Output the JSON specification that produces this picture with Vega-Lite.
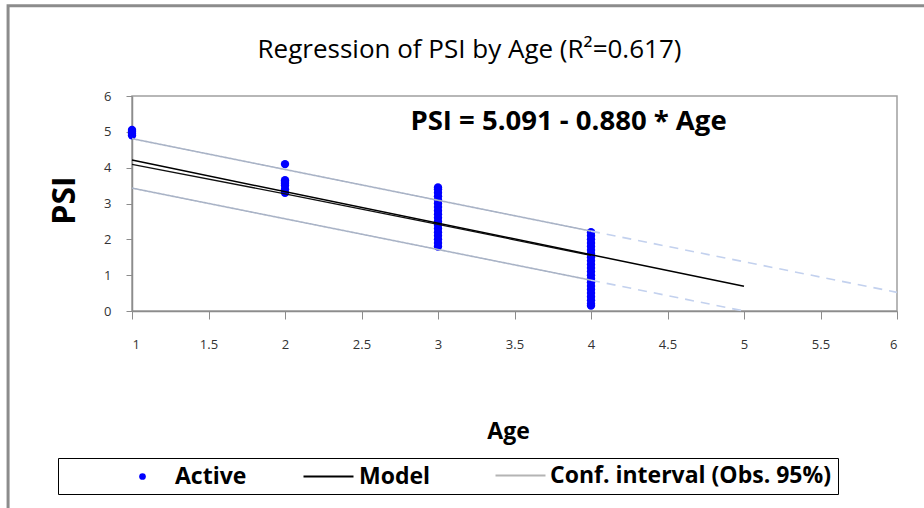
{
  "$schema": "https://vega.github.io/schema/vega-lite/v6.json",
  "width": 765,
  "height": 215,
  "autosize": "none",
  "padding": {"left": 132, "top": 96, "right": 27, "bottom": 197},
  "background": "white",
  "title": {"text": "Regression of PSI by Age (R²=0.617)", "fontSize": 26, "fontWeight": "normal", "font": "Open Sans", "color": "#000", "anchor": "middle", "dx": -45, "offset": -59},
  "config": {
    "font": "Open Sans",
    "view": {"stroke": "#a0a0a0", "strokeWidth": 1.5},
    "axis": {"grid": false, "domainColor": "#8c8c8c", "tickColor": "#8c8c8c", "domainWidth": 1.5, "labelColor": "#333", "labelFontSize": 13, "labelFont": "Open Sans", "titleFont": "Open Sans", "titleColor": "#000"}
  },
  "datasets": {
    "points": [
      {"Age": 1, "PSI": 4.9}, {"Age": 1, "PSI": 4.95}, {"Age": 1, "PSI": 5.0}, {"Age": 1, "PSI": 5.05},
      {"Age": 2, "PSI": 3.3}, {"Age": 2, "PSI": 3.4}, {"Age": 2, "PSI": 3.5}, {"Age": 2, "PSI": 3.55}, {"Age": 2, "PSI": 3.6}, {"Age": 2, "PSI": 3.65}, {"Age": 2, "PSI": 4.1},
      {"Age": 3, "PSI": 1.8}, {"Age": 3, "PSI": 1.9}, {"Age": 3, "PSI": 2.0}, {"Age": 3, "PSI": 2.1}, {"Age": 3, "PSI": 2.2}, {"Age": 3, "PSI": 2.3}, {"Age": 3, "PSI": 2.4}, {"Age": 3, "PSI": 2.5}, {"Age": 3, "PSI": 2.6}, {"Age": 3, "PSI": 2.7}, {"Age": 3, "PSI": 2.8}, {"Age": 3, "PSI": 2.9}, {"Age": 3, "PSI": 3.0}, {"Age": 3, "PSI": 3.1}, {"Age": 3, "PSI": 3.2}, {"Age": 3, "PSI": 3.3}, {"Age": 3, "PSI": 3.4}, {"Age": 3, "PSI": 3.45},
      {"Age": 4, "PSI": 0.15}, {"Age": 4, "PSI": 0.2}, {"Age": 4, "PSI": 0.3}, {"Age": 4, "PSI": 0.4}, {"Age": 4, "PSI": 0.5}, {"Age": 4, "PSI": 0.6}, {"Age": 4, "PSI": 0.7}, {"Age": 4, "PSI": 0.8}, {"Age": 4, "PSI": 0.9}, {"Age": 4, "PSI": 1.0}, {"Age": 4, "PSI": 1.1}, {"Age": 4, "PSI": 1.2}, {"Age": 4, "PSI": 1.3}, {"Age": 4, "PSI": 1.4}, {"Age": 4, "PSI": 1.5}, {"Age": 4, "PSI": 1.6}, {"Age": 4, "PSI": 1.7}, {"Age": 4, "PSI": 1.8}, {"Age": 4, "PSI": 1.9}, {"Age": 4, "PSI": 2.0}, {"Age": 4, "PSI": 2.1}, {"Age": 4, "PSI": 2.2}
    ],
    "lines": [
      {"Age": 1, "PSI": 4.211, "line": "model"}, {"Age": 5, "PSI": 0.691, "line": "model"},
      {"Age": 1, "PSI": 4.09, "line": "meanci"}, {"Age": 2, "PSI": 3.27, "line": "meanci"}, {"Age": 3, "PSI": 2.42, "line": "meanci"}, {"Age": 4, "PSI": 1.55, "line": "meanci"},
      {"Age": 1, "PSI": 4.81, "line": "obs_upper"}, {"Age": 4, "PSI": 2.23, "line": "obs_upper"},
      {"Age": 1, "PSI": 3.43, "line": "obs_lower"}, {"Age": 4, "PSI": 0.86, "line": "obs_lower"},
      {"Age": 4, "PSI": 2.23, "line": "obs_upper_ext"}, {"Age": 6, "PSI": 0.52, "line": "obs_upper_ext"},
      {"Age": 4, "PSI": 0.86, "line": "obs_lower_ext"}, {"Age": 5, "PSI": 0.0, "line": "obs_lower_ext"}
    ]
  },
  "encoding": {
    "x": {"field": "Age", "type": "quantitative", "scale": {"domain": [1, 6], "nice": false, "zero": false},
      "axis": {"values": [1, 1.5, 2, 2.5, 3, 3.5, 4, 4.5, 5, 5.5, 6], "format": "~g", "tickSize": 8, "labelPadding": 19, "title": "Age", "titleFontSize": 23, "titleFontWeight": "bold", "titlePadding": 69, "titleX": 376}},
    "y": {"field": "PSI", "type": "quantitative", "scale": {"domain": [0, 6], "nice": false},
      "axis": {"values": [0, 1, 2, 3, 4, 5, 6], "tickSize": 6, "labelPadding": 15, "title": "PSI", "titleFontSize": 32, "titleFontWeight": "bold", "titlePadding": 22, "titleY": 104}}
  },
  "layer": [
    {
      "data": {"name": "lines"},
      "transform": [{"filter": "datum.line === 'model' && datum.Age === 1"}],
      "mark": {"type": "rect", "fill": "transparent", "stroke": "#8c8c8c", "strokeWidth": 3, "clip": false},
      "encoding": {
        "x": {"datum": 0.19, "type": "quantitative"},
        "x2": {"datum": 7.5},
        "y": {"datum": 8.52, "type": "quantitative"},
        "y2": {"datum": -8}
      }
    },
    {
      "data": {"name": "points"},
      "mark": {"type": "point", "filled": true, "size": 70, "opacity": 1},
      "encoding": {
        "fill": {"datum": "Active", "type": "nominal",
          "scale": {"domain": ["Active"], "range": ["#0000ff"]},
          "legend": {"title": null, "orient": "none", "legendX": -1, "legendY": 369, "direction": "horizontal",
            "padding": 0, "symbolSize": 45, "symbolType": "circle", "labelOffset": 21,
            "labelFontSize": 23, "labelFontWeight": "bold", "labelColor": "#000", "labelFont": "Open Sans", "symbolOpacity": 1}}
      }
    },
    {
      "data": {"name": "lines"},
      "transform": [{"filter": "datum.line === 'obs_upper' || datum.line === 'obs_lower'"}],
      "mark": {"type": "line", "strokeWidth": 1.6, "color": "#a9b3c6"},
      "encoding": {
        "detail": {"field": "line"},
        "strokeDash": {"datum": "Conf. interval (Obs. 95%)", "type": "nominal",
          "scale": {"domain": ["Conf. interval (Obs. 95%)"], "range": [[1, 0]]},
          "legend": {"title": null, "orient": "none", "legendX": -74, "legendY": 362, "direction": "horizontal",
            "strokeColor": "#000", "padding": 6, "labelLimit": 700,
            "symbolType": "M-4,0H4", "symbolSize": 156.25, "symbolStrokeWidth": 2, "symbolStrokeColor": "#b4b4b4", "symbolOffset": 445, "labelOffset": 18,
            "labelExpr": "datum.label + '\u00a0\u00a0\u00a0\u00a0\u00a0\u00a0\u00a0\u00a0\u00a0\u00a0\u00a0\u00a0\u00a0\u00a0\u00a0'",
            "labelFontSize": 23, "labelFontWeight": "bold", "labelColor": "#000", "labelFont": "Open Sans"}}
      }
    },
    {
      "data": {"name": "lines"},
      "transform": [{"filter": "datum.line === 'obs_upper_ext' || datum.line === 'obs_lower_ext'"}],
      "mark": {"type": "line", "strokeWidth": 1.6, "color": "#c3d1ee", "strokeDash": [9, 7]},
      "encoding": {
        "detail": {"field": "line"}
      }
    },
    {
      "data": {"name": "lines"},
      "transform": [{"filter": "datum.line === 'meanci'"}],
      "mark": {"type": "line", "strokeWidth": 1.3, "color": "#111"},
      "encoding": {}
    },
    {
      "data": {"name": "lines"},
      "transform": [{"filter": "datum.line === 'model'"}],
      "mark": {"type": "line", "strokeWidth": 1.5},
      "encoding": {
        "stroke": {"datum": "Model", "type": "nominal",
          "scale": {"domain": ["Model"], "range": ["#000000"]},
          "legend": {"title": null, "orient": "none", "legendX": 185, "legendY": 369, "direction": "horizontal",
            "padding": 0, "symbolType": "M-4,0H4", "symbolSize": 156.25, "symbolStrokeWidth": 2, "labelOffset": 19,
            "labelFontSize": 23, "labelFontWeight": "bold", "labelColor": "#000", "labelFont": "Open Sans"}}
      }
    },
    {
      "data": {"name": "lines"},
      "transform": [{"filter": "datum.line === 'model' && datum.Age === 1"}],
      "mark": {"type": "text", "text": "PSI = 5.091 - 0.880 * Age", "align": "left", "baseline": "middle", "fontSize": 27.5, "fontWeight": "bold", "font": "Open Sans", "color": "#000"},
      "encoding": {
        "x": {"datum": 2.82, "type": "quantitative"},
        "y": {"datum": 5.27, "type": "quantitative"}
      }
    }
  ]
}
